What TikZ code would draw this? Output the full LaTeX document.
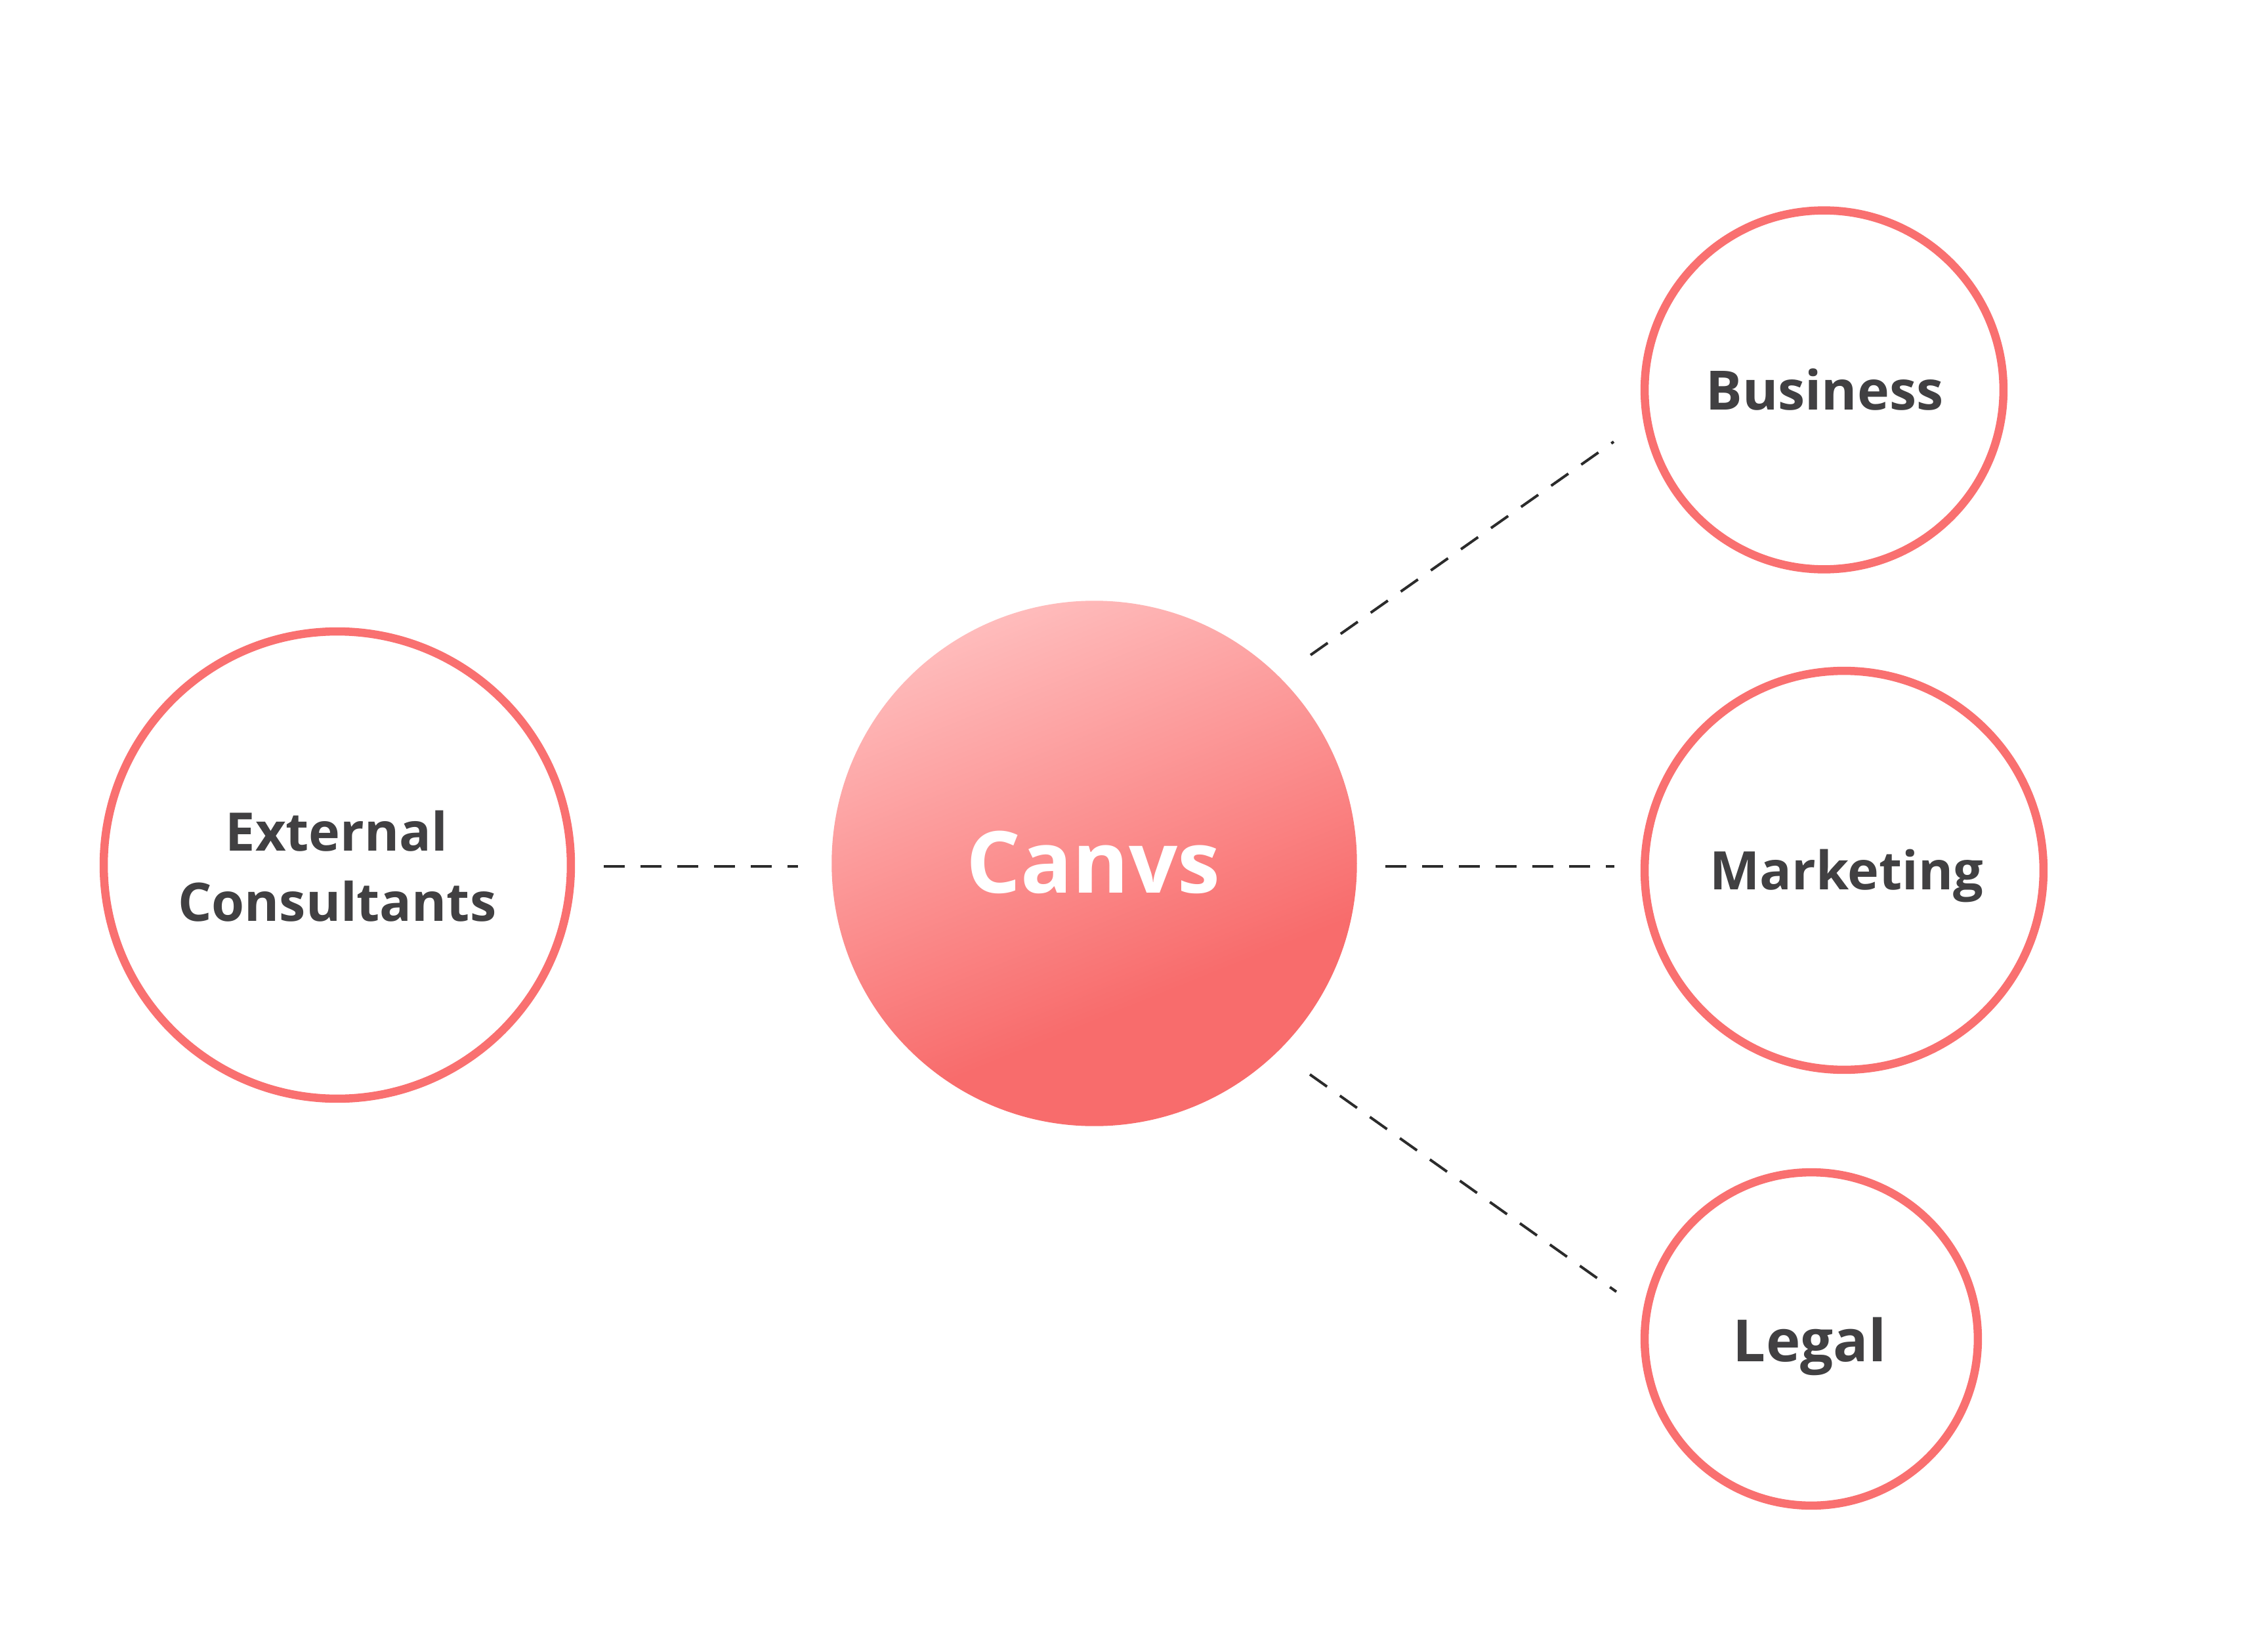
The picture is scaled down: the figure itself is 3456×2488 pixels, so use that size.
\documentclass[tikz,border=0pt]{standalone}
\usepackage{fontspec}
\setmainfont{Open Sans}
\definecolor{ring}{HTML}{F97070}
\definecolor{txt}{HTML}{414042}
\definecolor{dashc}{HTML}{2B2B2B}
\definecolor{cLight}{HTML}{FFBEBE}
\definecolor{cDark}{HTML}{F86C6C}
\pgfdeclareverticalshading{canvsgrad}{100bp}{color(0bp)=(cDark); color(36bp)=(cDark); color(76bp)=(cLight); color(100bp)=(cLight)}
\tikzset{
  ringnode/.style={circle, draw=ring, line width=0.125cm, fill=white, inner sep=0pt},
  lbl/.style={text=txt, inner sep=0pt, anchor=base, font=\bfseries\fontsize{#1}{#1}\selectfont},
  dashlink/.style={draw=dashc, line width=0.04cm, dash pattern=on 0.32cm off 0.24cm}
}
\begin{document}
\begin{tikzpicture}[x=0.01cm, y=-0.01cm]
\fill[white] (0,0) rectangle (3456,2488);
\useasboundingbox (0,0) rectangle (3456,2488);

% central node
\node[circle, inner sep=0pt, minimum size=8cm, shade, shading=canvsgrad, shading angle=22] (canvs) at (1667.5,1315.5) {};
\node[lbl=37.1pt, text=white] (canvst) at (1666,1360.6) {Canvs};

% outer nodes
\node[ringnode, minimum size=7.115cm] (ext) at (514,1318) {};
\node[lbl=23pt] (extt1) at (513,1296.3) {External};
\node[lbl=23pt] (extt2) at (513.7,1403.9) {Consultants};

\node[ringnode, minimum size=5.465cm] (bus) at (2779.5,594) {};
\node[lbl=23.5pt] (bust) at (2780.5,624) {Business};

\node[ringnode, minimum size=6.075cm] (mkt) at (2810,1326) {};
\node[lbl=23pt] (mktt) at (2813.7,1355.6) {Marketing};

\node[ringnode, minimum size=5.075cm] (leg) at (2760,2040) {};
\node[lbl=25.2pt] (legt) at (2757.5,2074) {Legal};

% connector ends
\coordinate (a1) at (920,1320);
\coordinate (a2) at (1216,1320);
\coordinate (b1) at (2111,1320);
\coordinate (b2) at (2460,1320);
\coordinate (c1) at (1997,998);
\coordinate (c2) at (2459,673);
\coordinate (d1) at (1996,1637);
\coordinate (d2) at (2463,1968);

\draw[dashlink] (a1) -- (a2);
\draw[dashlink] (b1) -- (b2);
\draw[dashlink] (c1) -- (c2);
\draw[dashlink] (d1) -- (d2);
\end{tikzpicture}
\end{document}
